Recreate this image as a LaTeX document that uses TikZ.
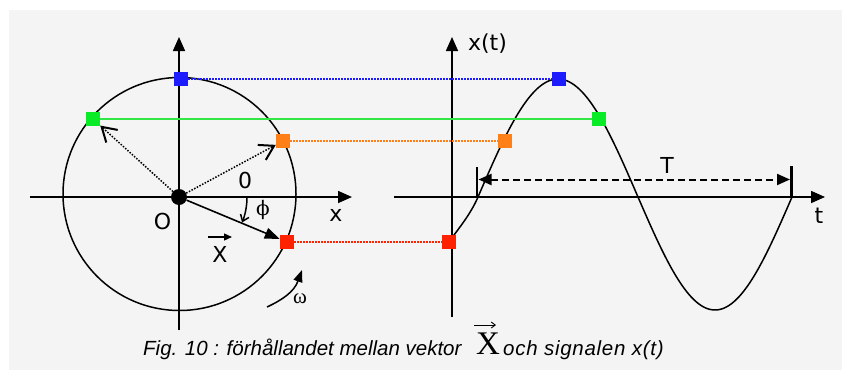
\documentclass[tikz,border=0pt]{standalone}
\usepackage{fontspec}
\setmainfont{Liberation Sans}
\newfontfamily\dejavu{DejaVu Sans}
\newfontfamily\lserif{Liberation Serif}
\newfontfamily\dserif{DejaVu Serif}
\usetikzlibrary{arrows.meta}
\definecolor{bgc}{RGB}{244,244,244}
\definecolor{cblue}{RGB}{28,28,255}
\definecolor{cgreen}{RGB}{10,235,40}
\definecolor{clgreen}{RGB}{50,230,70}
\definecolor{corange}{RGB}{255,128,25}
\definecolor{cred}{RGB}{255,34,0}
\begin{document}
\begin{tikzpicture}[x=1pt,y=-1pt,
  sq/.style={rectangle, minimum size=14pt, inner sep=0pt, draw=none},
  axisline/.style={line width=1.6pt, -{Triangle[length=14pt,width=12pt]}},
  dotline/.style={line width=1.5pt, dash pattern=on 1.5pt off 1.5pt},
  darrow/.style={line width=1.5pt, dash pattern=on 1.5pt off 1.5pt, -{Straight Barb[length=14pt,width=17pt,line width=2pt]}},
  lab/.style={font=\dejavu\fontsize{22}{24}\selectfont, inner sep=0pt},
  caption/.style={font=\itshape\fontsize{20.5}{22}\selectfont, inner sep=0pt, anchor=base west},
  curve/.style={line width=1.5pt, line cap=round, line join=round}]
\useasboundingbox (0,0) rectangle (846,370);
\fill[white] (0,0) rectangle (846,370);
\fill[bgc] (9,10) rectangle (842,370);

% ---------- left: phasor diagram ----------
\coordinate (lxs) at (30,197);   \coordinate (lxe) at (352,197);
\coordinate (lys) at (179,330);  \coordinate (lye) at (179,37);
\draw[curve] (179.5,194) circle[radius=116.5];
\draw[axisline] (lxs) -- (lxe);
\draw[axisline] (lys) -- (lye);

\node[circle, fill=black, minimum size=16pt, inner sep=0pt] (O) at (179,197) {};

% ---------- right: signal ----------
\coordinate (rxs) at (394,197);  \coordinate (rxe) at (825,197);
\coordinate (rys) at (452,317);  \coordinate (rye) at (452,37);
\draw[axisline] (rxs) -- (rxe);
\draw[axisline] (rys) -- (rye);

\draw[curve] (449,242) .. controls (458,229) and (470,215.5) .. (478,197);
\draw[curve] plot[domain=478:638, samples=80, smooth] (\x, {197 - 118*sin((\x-478)/160*180)});
\draw[curve] plot[domain=638:792, samples=80, smooth] (\x, {197 + 113*sin((\x-638)/154*180)});

% period marker
\coordinate (t1b) at (477,197); \coordinate (t1t) at (477,167);
\coordinate (t2b) at (791.5,197); \coordinate (t2t) at (791.5,166);
\draw[line width=2.5pt] (t1b) -- (t1t);
\draw[line width=2.5pt] (t2b) -- (t2t);
\coordinate (ta) at (478.5,179.5); \coordinate (tb) at (790,179.5);
\draw[line width=2pt, dash pattern=on 7pt off 4pt,
      {Triangle[length=13pt,width=11pt]}-{Triangle[length=13pt,width=11pt]}] (ta) -- (tb);

% ---------- squares ----------
\node[sq, fill=cblue]   (bL) at (181,79)  {};
\node[sq, fill=cgreen]  (gL) at (93,119)  {};
\node[sq, fill=corange] (oL) at (283,141) {};
\node[sq, fill=cred]    (rL) at (287,242) {};
\node[sq, fill=cblue]   (bR) at (559,79)  {};
\node[sq, fill=cgreen]  (gR) at (599,119) {};
\node[sq, fill=corange] (oR) at (505,141) {};
\node[sq, fill=cred]    (rR) at (449,242) {};

% projection lines
\draw[dotline, cblue] (bL) -- (bR);
\draw[line width=2pt, clgreen] (gL) -- (gR);
\draw[dotline, corange] (oL) -- (oR);
\draw[dotline, cred] (rL) -- (rR);

% phasors
\draw[darrow] (O) -- (gL);
\draw[darrow] (O) -- (oL);
\draw[line width=1.6pt, -{Triangle[length=15pt,width=11pt]}] (O) -- (rL);

% angle phi
\coordinate (phis) at (247,197);
\draw[line width=1.5pt, -{Straight Barb[length=6pt,width=9pt]}] (phis) arc[start angle=0, end angle=22, radius=68];

% omega arrow
\coordinate (w1) at (267,307); \coordinate (w2) at (302,270);
\draw[line width=1.5pt, -{Triangle[length=12pt,width=9pt]}] (w1) .. controls (282,300) and (294,292) .. (w2);

% vector X label
\node[lab] (vX) at (220,254.5) {X};
\coordinate (va) at (208,237); \coordinate (vb) at (232,237);
\draw[line width=1.3pt, -{Triangle[length=8pt,width=7pt]}] (va) -- (vb);

% labels
\node[lab] (lO)  at (162.5,221.5) {O};
\node[lab] (l0)  at (245,180) {0};
\node[lab] (lx)  at (336,215.5) {x};
\node[inner sep=0pt, font=\dserif\fontsize{20}{22}\selectfont] (lphi) at (263,210) {ϕ};
\node[inner sep=0pt, font=\lserif\fontsize{21}{22}\selectfont] (lw) at (300,299) {ω};
\node[lab] (lxt) at (487.5,44) {x(t)};
\node[lab] (lt)  at (819,216) {t};
\node[lab] (lT)  at (667,165.5) {T};

% caption
\node[caption] (cap1) at (143,355) {Fig. 10 : förhållandet mellan vektor};
\node[inner sep=0pt, anchor=base west, font=\lserif\fontsize{33}{36}\selectfont] (capX) at (476,354) {X};
\coordinate (ca) at (474,325); \coordinate (cb) at (496,325);
\draw[line width=0.9pt, -{Straight Barb[length=4pt,width=6pt]}] (ca) -- (cb);
\node[caption, font=\itshape\fontsize{20.5}{22}\selectfont\addfontfeatures{LetterSpace=3.5}] (cap2) at (503,355) {och signalen x(t)};
\end{tikzpicture}
\end{document}
